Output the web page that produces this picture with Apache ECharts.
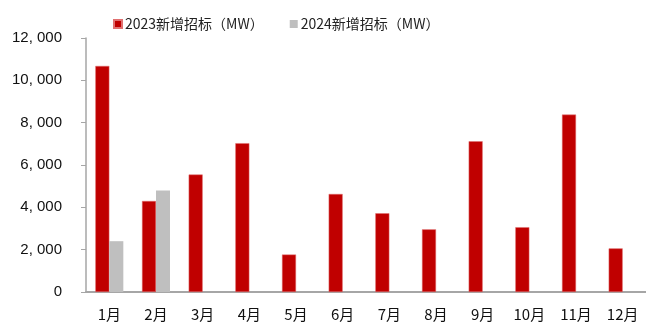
<!DOCTYPE html>
<html>
<head>
<meta charset="utf-8">
<script src="https://cdn.jsdelivr.net/npm/echarts@6/dist/echarts.min.js"></script>
<style>
  html, body { margin: 0; padding: 0; background: #fff; }
  #chart { width: 646px; height: 323px; }
</style>
</head>
<body>
<div id="chart"></div>
<script>
// Monthly new tender volume (MW)
const months = ['1月', '2月', '3月', '4月', '5月', '6月', '7月', '8月', '9月', '10月', '11月', '12月'];
const tender2023 = [10680, 4300, 5550, 7030, 1770, 4630, 3720, 2960, 7120, 3060, 8380, 2060];
const tender2024 = [2400, 4800, null, null, null, null, null, null, null, null, null, null];
const seriesNames = ['2023新增招标（MW）', '2024新增招标（MW）'];
const yTicks = { min: 0, max: 12000, interval: 2000 };

const textFont = '"Liberation Sans", Arial, "Noto Sans CJK SC", sans-serif';
const chart = echarts.init(document.getElementById('chart'), null, { renderer: 'canvas' });

chart.setOption({
  animation: false,
  backgroundColor: '#ffffff',
  legend: {
    left: 108,
    top: 12,
    itemWidth: 8,
    itemHeight: 8,
    itemGap: 26,
    icon: 'rect',
    textStyle: { fontSize: 14, color: '#222', fontFamily: '"Noto Sans CJK SC", sans-serif', padding: [0, 0, 0, -2] },
    data: seriesNames
  },
  grid: { left: 86, right: -6, top: 38, bottom: 31 },
  xAxis: {
    type: 'category',
    data: months,
    axisLine: { lineStyle: { color: '#a6a6a6', width: 2 } },
    axisTick: { show: false },
    axisLabel: { margin: 15, fontSize: 15, color: '#111', fontFamily: '"Noto Sans CJK SC", sans-serif' }
  },
  yAxis: {
    type: 'value',
    min: yTicks.min,
    max: yTicks.max,
    interval: yTicks.interval,
    splitLine: { show: false },
    axisLine: { show: true, lineStyle: { color: '#a6a6a6', width: 1.5 } },
    axisTick: { show: true, length: 5, lineStyle: { color: '#a6a6a6' } },
    axisLabel: {
      margin: 24,
      fontSize: 15,
      color: '#111',
      fontFamily: textFont,
      formatter: v => v >= 1000 ? Math.floor(v / 1000) + ', ' + String(v % 1000).padStart(3, '0') : String(v)
    }
  },
  series: [
    {
      name: seriesNames[0],
      type: 'bar',
      data: tender2023,
      barWidth: 14,
      barGap: '0%',
      itemStyle: { color: '#c00000', borderColor: '#e07070', borderWidth: 0.5 }
    },
    {
      name: seriesNames[1],
      type: 'bar',
      data: tender2024,
      barWidth: 14,
      barGap: '0%',
      itemStyle: { color: '#bfbfbf' }
    }
  ]
});
</script>
</body>
</html>
